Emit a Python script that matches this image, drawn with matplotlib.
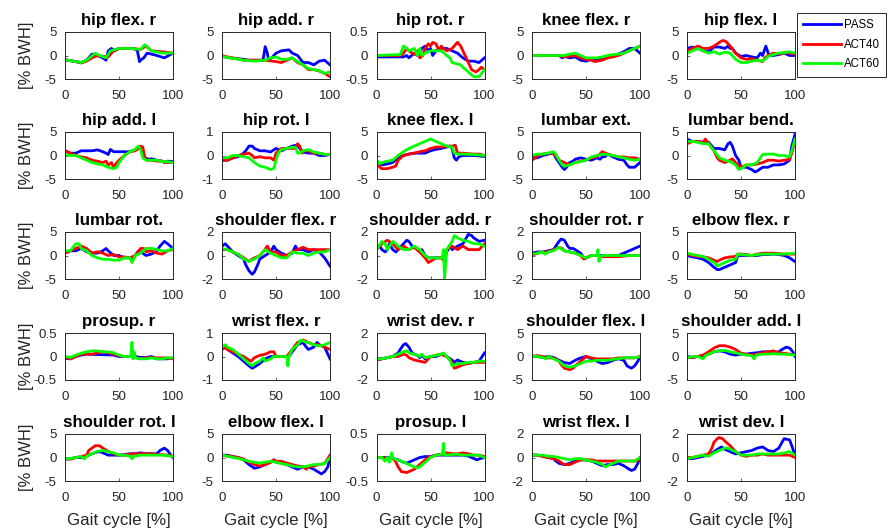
import matplotlib
matplotlib.use("Agg")
import matplotlib.pyplot as plt
from matplotlib.lines import Line2D

plt.rcParams["font.family"] = ["Liberation Sans", "DejaVu Sans"]
plt.rcParams["axes.unicode_minus"] = False

CONDITIONS = ["PASS", "ACT40", "ACT60"]
COLORS = {"PASS": "#0000ff", "ACT40": "#ff0000", "ACT60": "#00ff00"}
X_TICKS = [0, 50, 100]

# Residual moments per joint, as (gait cycle %, % BWH) samples
hip_flex_r = dict(
    PASS=[(0,-0.9),(5,-1.1),(10,-1.3),(15,-1.5),(20,-1.0),(25,0.3),(28,0.1),(32,-0.2),(35,-0.5),(38,-1.0),(40,1.0),(43,1.5),(46,1.0),(50,1.5),(55,1.5),(60,1.5),(65,1.4),(67,1.0),(69,-1.3),(71,-0.8),(73,-0.5),(76,0.5),(80,0.3),(85,0.0),(92,-0.5),(96,0.0),(100,0.5)],
    ACT40=[(0,-0.9),(5,-1.1),(10,-1.3),(15,-1.6),(20,-1.2),(25,-0.5),(30,0.0),(35,-0.2),(40,-0.3),(45,1.0),(50,1.5),(60,1.5),(70,1.3),(75,2.0),(80,1.0),(90,0.8),(100,0.5)],
    ACT60=[(0,-0.9),(5,-1.1),(10,-1.3),(15,-1.5),(20,-1.0),(28,0.5),(32,0.0),(38,-0.5),(42,1.0),(50,1.5),(60,1.5),(70,1.3),(74,2.3),(80,1.0),(90,0.5),(100,0.5)],
)
hip_add_r = dict(
    PASS=[(0,-0.2),(5,-0.4),(10,-0.6),(20,-0.8),(25,-1.0),(38,-1.0),(40,1.9),(42,0.5),(43,-1.0),(46,-0.5),(50,0.5),(55,1.0),(62,1.2),(65,0.5),(70,0.0),(75,-1.5),(80,-1.5),(85,-2.0),(90,-1.2),(95,-1.0),(100,-2.0)],
    ACT40=[(0,0.0),(5,-0.3),(10,-0.5),(20,-1.0),(30,-1.0),(40,-1.0),(50,-1.3),(55,-1.5),(60,-1.0),(65,-0.5),(70,-1.5),(75,-2.0),(80,-3.0),(85,-3.0),(90,-3.3),(95,-3.8),(100,-4.5)],
    ACT60=[(0,-0.2),(5,-0.4),(10,-0.6),(20,-1.0),(30,-1.2),(40,-1.0),(45,-0.5),(50,-0.3),(55,-0.8),(60,-0.8),(65,-0.5),(70,-1.3),(75,-2.0),(80,-2.8),(85,-3.0),(90,-3.2),(95,-3.8),(100,-3.5)],
)
hip_rot_r = dict(
    PASS=[(0,-0.03),(25,-0.03),(28,0.0),(30,-0.05),(35,0.05),(38,0.0),(40,0.05),(42,0.15),(45,0.2),(48,0.1),(50,0.15),(52,0.0),(55,0.1),(60,0.15),(65,0.15),(70,0.1),(75,0.05),(80,-0.05),(85,-0.12),(90,-0.12),(95,-0.15),(100,-0.05)],
    ACT40=[(0,0.0),(22,0.0),(25,0.05),(28,0.15),(30,0.1),(35,0.02),(38,0.1),(40,-0.05),(43,0.0),(45,0.15),(48,0.25),(50,0.2),(52,0.28),(55,0.25),(58,0.1),(60,0.2),(62,0.15),(65,0.1),(70,0.15),(75,0.28),(78,0.2),(80,0.1),(85,-0.15),(88,-0.3),(92,-0.35),(95,-0.3),(97,-0.25),(100,-0.3)],
    ACT60=[(0,0.0),(22,0.02),(25,0.2),(28,0.15),(30,0.1),(35,0.15),(38,0.0),(40,0.15),(42,0.0),(45,0.05),(50,0.1),(60,0.1),(65,0.0),(68,-0.05),(70,-0.15),(78,-0.2),(80,-0.25),(85,-0.35),(90,-0.45),(95,-0.45),(100,-0.3)],
)
knee_flex_r = dict(
    PASS=[(0,0.0),(25,0.0),(28,-0.5),(30,-0.2),(35,-0.5),(40,-0.3),(45,-1.0),(50,-1.2),(55,-0.8),(60,-0.8),(65,-0.5),(70,-0.2),(75,0.0),(80,0.3),(85,0.8),(90,1.5),(95,1.5),(100,0.5)],
    ACT40=[(0,0.0),(25,0.0),(30,-0.3),(40,0.0),(45,-0.5),(50,-0.8),(55,-1.0),(58,-1.3),(65,-1.0),(70,-0.5),(75,-0.3),(80,0.0),(85,0.5),(90,1.0),(95,1.5),(100,2.0)],
    ACT60=[(0,0.0),(30,0.0),(35,0.3),(40,0.5),(45,0.0),(50,-0.5),(60,-0.5),(65,-0.3),(70,0.0),(75,0.2),(80,0.3),(85,0.5),(90,1.0),(95,1.5),(100,2.0)],
)
hip_flex_l = dict(
    PASS=[(0,1.5),(5,1.8),(10,1.5),(15,1.0),(20,0.8),(25,1.8),(30,1.8),(35,1.5),(38,2.0),(40,1.5),(42,1.5),(45,0.5),(50,-0.2),(55,0.0),(60,-0.3),(65,-0.5),(68,0.5),(70,0.0),(73,2.0),(76,0.0),(80,0.0),(85,0.2),(90,0.5),(95,0.0),(100,0.0)],
    ACT40=[(0,1.0),(5,1.5),(10,2.0),(15,1.5),(20,1.5),(25,2.0),(30,2.8),(33,3.2),(36,3.0),(40,2.0),(45,0.5),(50,-0.5),(55,-0.8),(60,-0.7),(65,-1.0),(70,-1.3),(72,-0.5),(75,0.0),(80,0.5),(85,0.3),(90,0.6),(95,0.5),(100,0.3)],
    ACT60=[(0,0.5),(5,1.0),(10,1.5),(15,1.0),(20,0.5),(25,0.8),(30,0.3),(35,0.7),(40,0.5),(45,-0.8),(50,-1.5),(55,-1.5),(60,-1.2),(65,-1.0),(70,-1.2),(75,-0.2),(80,0.2),(85,0.5),(90,0.6),(95,0.8),(100,0.5)],
)
hip_add_l = dict(
    PASS=[(0,1.0),(5,0.5),(10,0.5),(15,1.0),(25,1.0),(30,1.2),(35,0.8),(38,0.5),(40,0.2),(42,1.3),(45,0.8),(60,0.8),(65,1.2),(68,1.5),(70,1.8),(72,0.5),(74,-0.5),(78,-0.8),(80,-0.7),(85,-1.0),(90,-1.2),(92,-1.5),(95,-1.2),(100,-1.3)],
    ACT40=[(0,1.0),(5,0.5),(10,0.0),(15,-0.3),(20,-0.5),(25,-1.0),(30,-1.2),(35,-1.5),(38,-1.2),(40,-2.0),(43,-1.5),(45,-2.5),(48,-1.5),(50,-1.0),(55,0.0),(60,0.8),(65,1.0),(68,1.5),(70,2.0),(72,1.8),(74,-0.5),(76,-1.0),(80,-1.0),(85,-1.2),(90,-1.2),(95,-1.5),(100,-1.5)],
    ACT60=[(0,0.2),(5,0.0),(10,0.0),(15,-0.5),(20,-1.0),(25,-1.5),(30,-1.8),(35,-2.0),(40,-2.5),(45,-2.8),(48,-2.5),(50,-1.5),(55,0.0),(60,0.8),(65,1.3),(68,2.0),(70,1.3),(72,-0.5),(75,-1.0),(85,-1.0),(90,-1.3),(95,-1.3),(100,-1.5)],
)
hip_rot_l = dict(
    PASS=[(0,-0.2),(5,-0.2),(10,-0.1),(15,-0.05),(20,0.1),(22,0.2),(25,0.4),(28,0.4),(30,0.3),(35,0.2),(40,0.2),(45,0.15),(50,0.3),(55,0.2),(60,0.3),(65,0.4),(70,0.45),(72,0.3),(75,0.15),(80,0.1),(85,0.1),(90,0.0),(95,0.0),(100,0.05)],
    ACT40=[(0,-0.2),(5,-0.2),(10,-0.1),(15,0.0),(20,0.05),(25,0.1),(28,0.0),(30,-0.1),(35,-0.05),(40,-0.1),(45,-0.1),(48,-0.2),(50,0.1),(55,0.3),(68,0.3),(70,0.5),(72,0.4),(74,0.1),(76,0.2),(80,0.2),(85,0.1),(90,0.1),(95,0.05),(100,0.05)],
    ACT60=[(0,-0.1),(5,-0.1),(10,0.0),(15,0.0),(20,-0.05),(25,-0.1),(30,-0.3),(35,-0.45),(40,-0.5),(45,-0.6),(48,-0.55),(50,-0.2),(52,0.1),(55,0.25),(60,0.3),(65,0.35),(68,0.35),(70,0.1),(72,0.1),(75,0.2),(80,0.25),(85,0.15),(90,0.1),(95,0.05),(100,0.05)],
)
knee_flex_l = dict(
    PASS=[(0,-1.0),(3,-2.0),(5,-2.0),(10,-1.8),(15,-1.5),(20,-0.5),(25,0.0),(30,0.3),(35,0.5),(45,0.5),(50,1.0),(55,1.3),(60,1.5),(65,1.8),(68,2.0),(70,1.5),(72,-0.5),(74,-1.0),(76,-0.3),(80,0.0),(90,0.0),(100,-0.2)],
    ACT40=[(0,-1.5),(3,-2.5),(5,-2.8),(10,-2.8),(15,-2.5),(18,-2.2),(20,-1.0),(25,0.0),(30,0.3),(35,0.5),(40,0.8),(45,1.0),(50,1.5),(55,1.8),(60,1.8),(65,2.0),(70,2.0),(73,2.2),(75,0.5),(80,0.5),(90,0.3),(95,0.3),(100,0.0)],
    ACT60=[(0,-1.0),(3,-1.8),(5,-1.5),(10,-1.2),(15,-1.0),(20,0.0),(25,0.8),(30,1.5),(35,2.0),(40,2.5),(45,3.0),(50,3.5),(55,3.0),(60,2.5),(65,2.0),(70,1.8),(72,0.5),(75,0.3),(80,0.3),(90,0.2),(100,0.0)],
)
lumbar_ext = dict(
    PASS=[(0,0.0),(3,-0.5),(5,-0.5),(10,0.0),(15,0.3),(20,0.5),(22,-0.5),(25,-1.5),(28,-2.5),(30,-3.0),(32,-2.5),(35,-1.5),(38,-1.2),(40,-0.8),(45,-0.5),(50,-0.8),(55,-1.0),(60,-0.5),(63,-0.8),(65,-0.3),(68,-0.2),(70,0.3),(75,-0.3),(80,-0.8),(85,-1.0),(88,-2.0),(90,-2.5),(95,-2.5),(100,-1.5)],
    ACT40=[(0,-1.0),(3,-0.5),(5,0.0),(10,0.3),(15,0.5),(20,0.5),(25,-1.0),(30,-1.5),(35,-2.0),(40,-1.5),(45,-1.2),(50,-1.0),(55,-0.5),(60,-0.3),(65,0.8),(70,0.3),(75,0.0),(80,-0.3),(85,-0.3),(90,-0.5),(95,-0.5),(100,-0.8)],
    ACT60=[(0,0.0),(5,0.3),(10,0.3),(15,0.5),(20,0.8),(22,0.3),(25,-1.0),(28,-2.0),(30,-2.3),(35,-2.0),(40,-1.5),(45,-1.3),(50,-1.0),(55,-0.3),(60,0.0),(65,0.3),(70,0.2),(75,0.0),(80,-0.3),(85,-0.5),(90,-0.8),(95,-1.0),(100,-0.8)],
)
lumbar_bend = dict(
    PASS=[(0,3.5),(5,3.0),(10,3.0),(15,2.8),(20,2.8),(25,1.5),(30,1.5),(35,1.2),(38,2.5),(40,2.8),(42,2.0),(45,0.0),(48,-1.0),(50,-2.5),(55,-2.5),(60,-3.0),(63,-3.5),(65,-3.3),(70,-2.5),(75,-2.5),(80,-2.0),(85,-2.0),(90,-1.8),(95,-1.0),(97,2.0),(100,4.5)],
    ACT40=[(0,2.5),(5,3.0),(10,3.0),(15,2.8),(17,3.5),(20,2.5),(25,1.0),(28,-0.5),(30,-1.0),(35,-1.5),(40,-1.0),(42,-0.7),(45,-1.5),(50,-2.5),(55,-2.0),(60,-2.0),(65,-1.8),(70,-1.5),(75,-1.0),(80,-1.0),(85,-1.2),(90,-1.0),(95,-0.8),(97,0.5),(100,3.0)],
    ACT60=[(0,3.0),(5,3.0),(10,2.8),(15,2.5),(20,2.5),(25,1.0),(30,-0.5),(35,-1.0),(40,-1.3),(45,-2.0),(48,-3.0),(50,-2.8),(55,-2.0),(60,-2.0),(65,-1.5),(70,0.2),(75,0.3),(80,0.3),(85,0.0),(90,0.0),(95,-0.3),(97,1.0),(100,3.5)],
)
lumbar_rot = dict(
    PASS=[(0,0.5),(5,1.0),(10,1.0),(15,1.5),(20,0.8),(25,0.5),(30,0.5),(35,1.0),(38,1.5),(40,1.0),(45,0.0),(50,0.0),(55,-0.5),(60,-0.5),(62,-1.0),(65,0.0),(68,1.0),(70,0.8),(75,0.0),(80,0.3),(85,1.0),(88,2.0),(92,3.0),(95,2.5),(100,1.5)],
    ACT40=[(0,0.5),(5,1.0),(10,1.5),(15,2.0),(20,1.5),(25,0.5),(30,0.8),(35,0.5),(40,0.0),(45,0.2),(50,-0.3),(55,-0.3),(60,-0.5),(65,0.0),(70,1.5),(73,1.5),(75,0.8),(80,1.0),(85,0.5),(90,0.3),(95,1.0),(100,1.3)],
    ACT60=[(0,1.0),(5,1.0),(10,2.5),(13,2.5),(15,1.5),(20,1.0),(25,0.0),(30,-0.5),(35,-0.8),(40,-0.8),(45,-1.0),(50,-1.0),(55,-0.5),(60,-0.5),(62,-1.5),(65,0.0),(70,0.5),(75,1.5),(80,1.5),(85,1.3),(90,1.0),(95,1.0),(100,1.5)],
)
shoulder_flex_r = dict(
    PASS=[(0,0.8),(3,1.0),(5,0.8),(10,0.3),(15,0.0),(20,-0.3),(22,-0.8),(25,-1.3),(28,-1.6),(30,-1.4),(33,-0.8),(35,-0.3),(40,0.0),(45,0.3),(48,0.8),(50,0.5),(55,0.2),(60,0.0),(65,0.2),(68,0.8),(70,0.5),(75,0.5),(80,0.3),(85,0.5),(90,0.3),(95,-0.2),(100,-0.9)],
    ACT40=[(0,0.5),(5,0.5),(10,0.3),(15,0.1),(20,-0.2),(25,-0.5),(28,-0.3),(30,-0.2),(35,0.0),(38,0.3),(42,0.8),(45,0.3),(50,0.3),(55,0.0),(60,0.0),(65,0.3),(70,0.5),(75,0.7),(80,0.5),(100,0.5)],
    ACT60=[(0,0.6),(5,0.5),(10,0.3),(15,0.1),(20,-0.3),(25,-0.5),(30,-0.3),(35,0.0),(40,0.5),(45,0.2),(50,0.0),(55,-0.2),(60,-0.2),(65,0.3),(70,0.2),(75,0.2),(80,0.0),(85,0.2),(90,0.3),(95,0.3),(100,0.5)],
)
shoulder_add_r = dict(
    PASS=[(0,0.7),(3,0.8),(5,0.5),(8,0.3),(10,0.5),(12,1.0),(15,0.5),(18,0.3),(20,0.5),(25,1.0),(28,1.3),(30,1.2),(33,0.8),(35,0.7),(38,0.5),(40,0.3),(42,0.5),(45,0.0),(48,-0.2),(60,-0.2),(63,-0.3),(65,0.3),(68,0.8),(70,0.5),(75,0.8),(80,1.0),(85,1.8),(88,1.7),(90,1.5),(95,1.2),(100,1.3)],
    ACT40=[(0,0.5),(5,1.0),(10,1.3),(15,1.0),(20,0.5),(25,0.8),(30,0.5),(35,0.7),(40,0.3),(45,-0.2),(48,-0.6),(50,-0.5),(55,-0.2),(60,-0.2),(63,-0.5),(65,0.5),(70,0.8),(75,0.5),(80,0.8),(85,0.5),(95,0.5),(100,1.0)],
    ACT60=[(0,0.5),(5,1.2),(8,1.0),(10,0.5),(15,1.2),(18,1.0),(20,0.8),(25,0.5),(30,0.5),(35,0.8),(40,0.5),(45,0.0),(48,-0.2),(61,-0.2),(62,0.5),(63,-2.0),(64,-0.8),(65,0.5),(70,1.2),(72,1.7),(75,1.5),(80,1.3),(85,1.2),(90,1.0),(95,1.0),(100,0.8)],
)
shoulder_rot_r = dict(
    PASS=[(0,0.2),(5,0.3),(10,0.3),(15,0.4),(20,0.5),(22,0.8),(25,1.2),(27,1.4),(30,1.3),(33,0.8),(35,0.6),(38,0.6),(40,0.5),(45,0.2),(48,-0.2),(50,-0.2),(55,0.0),(65,0.0),(70,-0.1),(75,0.0),(80,0.0),(85,0.2),(90,0.4),(95,0.6),(100,0.8)],
    ACT40=[(0,0.0),(5,0.2),(10,0.3),(15,0.3),(20,0.5),(25,0.7),(28,0.6),(30,0.4),(35,0.3),(40,0.2),(45,0.0),(48,-0.3),(50,-0.2),(55,0.0),(60,0.0),(65,-0.1),(80,-0.1),(90,0.0),(100,0.0)],
    ACT60=[(0,0.1),(5,0.2),(10,0.3),(12,0.1),(15,0.3),(20,0.4),(25,0.7),(28,0.5),(30,0.4),(35,0.3),(40,0.2),(45,0.0),(50,-0.2),(55,0.0),(60,0.0),(61,0.5),(62,-0.5),(63,-0.1),(65,0.0),(100,0.0)],
)
elbow_flex_r = dict(
    PASS=[(0,0.0),(5,-0.3),(10,-0.5),(15,-0.8),(20,-1.5),(25,-2.5),(28,-3.0),(30,-3.0),(35,-2.5),(40,-2.0),(45,-1.5),(47,0.0),(65,0.0),(70,0.2),(75,0.2),(80,0.3),(85,0.2),(90,0.0),(95,-0.5),(100,-1.3)],
    ACT40=[(0,0.3),(5,0.0),(10,-0.2),(15,-0.3),(20,-0.5),(25,-1.0),(28,-1.3),(30,-1.0),(35,-0.5),(40,-0.3),(45,-0.2),(47,0.3),(50,0.3),(55,0.2),(60,0.0),(65,0.3),(70,0.5),(80,0.5),(90,0.3),(100,0.3)],
    ACT60=[(0,0.5),(5,0.2),(10,0.0),(15,-0.2),(20,-0.8),(25,-1.5),(28,-2.2),(30,-2.0),(35,-1.5),(40,-1.0),(45,-0.8),(47,0.3),(50,0.2),(60,0.0),(65,0.2),(70,0.3),(90,0.3),(100,0.5)],
)
prosup_r = dict(
    PASS=[(0,-0.04),(5,-0.05),(10,0.0),(15,0.03),(20,0.05),(45,0.03),(50,0.0),(65,0.0),(70,-0.02),(75,-0.02),(80,0.0),(85,-0.05),(95,-0.05),(100,-0.03)],
    ACT40=[(0,-0.02),(5,-0.05),(10,0.0),(15,0.05),(25,0.05),(30,0.08),(35,0.1),(40,0.08),(45,0.05),(50,0.02),(55,0.0),(60,0.0),(62,0.02),(65,-0.02),(70,-0.05),(75,-0.03),(80,-0.02),(85,-0.03),(95,-0.03),(100,-0.05)],
    ACT60=[(0,0.0),(5,-0.02),(10,0.03),(15,0.07),(20,0.1),(25,0.12),(30,0.12),(35,0.1),(40,0.1),(45,0.08),(50,0.03),(55,0.0),(61,0.0),(62,0.3),(63,-0.05),(64,0.1),(65,-0.03),(70,-0.05),(75,-0.05),(80,-0.03),(85,-0.05),(90,-0.05),(95,-0.03),(100,-0.03)],
)
wrist_flex_r = dict(
    PASS=[(0,0.3),(3,0.4),(5,0.3),(10,0.15),(15,0.0),(20,-0.2),(25,-0.4),(28,-0.5),(30,-0.45),(35,-0.3),(40,-0.1),(45,0.0),(62,0.0),(65,0.2),(70,0.5),(75,0.6),(78,0.4),(80,0.3),(85,0.4),(88,0.6),(90,0.5),(95,0.4),(100,-0.1)],
    ACT40=[(0,0.3),(3,0.4),(5,0.3),(10,0.2),(15,0.1),(20,0.0),(25,-0.15),(27,-0.2),(30,-0.05),(35,0.05),(40,0.1),(45,0.2),(48,0.2),(50,0.0),(60,0.0),(65,0.3),(70,0.6),(75,0.7),(80,0.6),(85,0.5),(90,0.5),(95,0.4),(100,0.3)],
    ACT60=[(0,0.4),(3,0.5),(5,0.4),(10,0.3),(15,0.1),(20,-0.1),(25,-0.3),(28,-0.4),(30,-0.3),(35,-0.2),(38,-0.05),(40,-0.2),(45,-0.1),(48,0.0),(60,0.0),(61,-0.4),(62,0.0),(65,0.3),(70,0.5),(73,0.7),(78,0.6),(80,0.6),(85,0.5),(90,0.45),(95,0.5),(100,0.6)],
)
wrist_dev_r = dict(
    PASS=[(0,-0.3),(5,-0.2),(10,-0.1),(15,0.0),(20,0.3),(22,0.6),(25,1.0),(27,1.1),(30,0.8),(33,0.3),(35,0.2),(38,0.1),(40,-0.1),(42,0.1),(45,-0.2),(50,0.0),(55,0.0),(60,0.2),(65,0.0),(70,-0.3),(72,-0.5),(75,-0.3),(80,-0.5),(85,-0.6),(90,-0.5),(95,-0.4),(100,0.3)],
    ACT40=[(0,-0.3),(5,-0.2),(10,-0.1),(15,0.0),(20,0.0),(25,0.2),(28,0.1),(30,-0.1),(35,-0.3),(40,-0.4),(45,-0.5),(50,0.0),(55,0.1),(60,0.2),(65,0.0),(70,-0.5),(72,-1.0),(75,-0.9),(80,-0.7),(85,-0.6),(90,-0.5),(100,-0.5)],
    ACT60=[(0,-0.2),(5,-0.2),(10,-0.1),(15,0.0),(20,0.2),(25,0.4),(28,0.5),(30,0.3),(35,0.2),(40,0.0),(42,0.2),(45,-0.1),(50,0.0),(55,0.1),(60,0.2),(62,0.3),(65,0.0),(68,-0.3),(70,-0.8),(75,-0.6),(80,-0.6),(85,-0.5),(90,-0.5),(95,-0.4),(100,-0.4)],
)
shoulder_flex_l = dict(
    PASS=[(0,0.0),(5,0.0),(10,-0.2),(15,0.0),(20,-0.2),(25,-0.8),(30,-1.3),(35,-1.5),(40,-0.8),(45,-0.3),(50,0.0),(55,-0.5),(60,-1.0),(65,-1.5),(70,-1.3),(75,-0.8),(80,-0.5),(85,-0.8),(88,-2.0),(92,-2.5),(95,-2.0),(98,-1.0),(100,0.0)],
    ACT40=[(0,0.0),(5,0.2),(10,0.0),(15,-0.3),(20,-0.3),(25,-1.0),(28,-2.0),(30,-2.5),(35,-2.8),(38,-2.5),(40,-2.0),(45,-1.0),(50,0.0),(55,-0.3),(60,-0.5),(75,-0.5),(80,-0.3),(95,-0.3),(100,0.0)],
    ACT60=[(0,0.0),(5,0.0),(10,-0.2),(13,-0.5),(15,0.0),(20,-0.5),(25,-1.0),(30,-2.0),(35,-2.3),(40,-2.0),(45,-1.5),(50,-1.0),(55,-1.0),(60,-0.8),(70,-0.8),(75,-0.6),(80,-0.5),(85,-0.3),(90,-0.2),(95,-0.3),(100,0.0)],
)
shoulder_add_l = dict(
    PASS=[(0,0.0),(5,-0.2),(10,0.0),(15,0.2),(20,0.5),(25,1.0),(30,1.2),(35,1.0),(40,0.5),(45,0.3),(50,0.5),(55,0.5),(60,0.7),(65,0.8),(70,1.0),(75,1.0),(80,0.8),(85,1.0),(88,1.5),(92,2.0),(95,1.8),(98,1.0),(100,0.0)],
    ACT40=[(0,-0.3),(5,-0.2),(10,0.0),(15,0.3),(20,1.0),(25,1.8),(30,2.3),(35,2.3),(40,2.0),(45,1.5),(50,0.7),(55,0.5),(60,0.3),(65,0.5),(70,0.8),(75,1.0),(80,1.2),(85,0.8),(90,0.7),(95,0.5),(100,0.3)],
    ACT60=[(0,-0.3),(5,0.0),(10,0.0),(15,-0.5),(17,0.2),(20,0.5),(25,1.0),(30,1.2),(35,1.3),(40,1.0),(45,0.8),(50,0.5),(55,0.3),(60,0.2),(62,-0.5),(64,0.3),(70,0.5),(75,0.5),(80,0.6),(85,0.5),(90,0.5),(95,0.4),(100,0.3)],
)
shoulder_rot_l = dict(
    PASS=[(0,-0.3),(5,-0.3),(10,0.0),(15,0.0),(20,0.3),(25,0.8),(30,1.2),(33,1.2),(35,1.0),(40,0.5),(50,0.5),(55,0.6),(60,0.8),(65,0.8),(70,1.0),(75,0.8),(85,0.8),(88,1.5),(92,2.0),(95,1.5),(98,0.5),(100,0.0)],
    ACT40=[(0,-0.3),(5,-0.3),(10,0.0),(15,0.2),(20,0.5),(22,1.5),(25,2.0),(28,2.5),(32,2.5),(35,2.0),(40,1.3),(45,0.8),(50,0.5),(55,0.5),(60,0.7),(65,0.8),(80,0.8),(85,0.6),(90,0.6),(95,0.5),(100,0.3)],
    ACT60=[(0,-0.3),(5,-0.2),(10,0.0),(15,0.2),(18,-0.3),(20,0.3),(25,0.8),(30,1.3),(35,1.5),(40,1.2),(45,1.0),(50,0.5),(55,0.5),(60,0.3),(62,-0.3),(64,0.3),(70,0.5),(90,0.5),(95,0.4),(100,0.2)],
)
elbow_flex_l = dict(
    PASS=[(0,0.5),(5,0.5),(10,0.2),(15,0.0),(20,-0.5),(25,-1.5),(30,-2.3),(35,-2.0),(40,-1.5),(45,-1.0),(48,-0.5),(50,-1.0),(55,-1.2),(60,-1.5),(65,-2.0),(70,-2.5),(75,-2.0),(80,-2.0),(85,-2.5),(90,-3.2),(92,-3.5),(95,-3.0),(98,-2.0),(100,0.0)],
    ACT40=[(0,0.5),(5,0.3),(10,0.2),(15,0.0),(20,-0.3),(25,-1.0),(30,-1.5),(35,-1.8),(40,-1.5),(45,-1.0),(48,-0.5),(50,-0.8),(55,-0.8),(60,-1.2),(65,-1.5),(70,-1.8),(75,-2.0),(78,-2.5),(80,-2.0),(85,-1.8),(90,-1.5),(95,-1.3),(100,0.5)],
    ACT60=[(0,0.5),(5,0.3),(10,0.0),(15,-0.2),(20,-0.5),(25,-0.8),(30,-1.0),(35,-1.2),(40,-1.0),(45,-0.8),(50,-1.0),(55,-1.3),(60,-1.5),(65,-1.8),(70,-2.0),(75,-2.0),(80,-1.8),(85,-1.5),(90,-1.5),(95,-1.3),(100,0.0)],
)
prosup_l = dict(
    PASS=[(0,0.0),(10,0.0),(15,-0.02),(20,-0.05),(25,-0.1),(28,-0.12),(30,-0.1),(35,-0.05),(40,0.0),(45,0.02),(50,0.02),(55,0.05),(80,0.05),(85,0.03),(90,-0.02),(93,-0.05),(95,-0.03),(100,0.0)],
    ACT40=[(0,0.0),(5,0.0),(10,-0.02),(15,0.0),(18,-0.1),(20,-0.2),(23,-0.3),(28,-0.32),(30,-0.3),(35,-0.25),(40,-0.15),(45,-0.05),(48,0.0),(50,0.02),(55,0.05),(60,0.07),(65,0.1),(70,0.08),(75,0.08),(80,0.1),(85,0.08),(90,0.05),(95,0.05),(100,0.02)],
    ACT60=[(0,0.0),(5,0.0),(8,-0.08),(10,0.0),(12,-0.1),(14,0.1),(15,0.0),(18,-0.05),(20,-0.05),(25,-0.1),(30,-0.15),(35,-0.2),(38,-0.22),(40,-0.2),(45,-0.1),(50,0.0),(55,0.05),(61,0.07),(62,0.3),(63,0.05),(75,0.07),(80,0.05),(95,0.05),(100,0.0)],
)
wrist_flex_l = dict(
    PASS=[(0,0.2),(5,0.2),(10,0.1),(15,0.0),(20,-0.1),(22,-0.3),(25,-0.5),(30,-0.6),(35,-0.5),(40,-0.3),(45,-0.2),(50,-0.2),(55,-0.3),(60,-0.5),(65,-0.7),(70,-0.6),(75,-0.6),(80,-0.5),(85,-0.7),(90,-1.0),(92,-1.1),(95,-1.0),(98,-0.5),(100,0.0)],
    ACT40=[(0,0.2),(5,0.2),(10,0.1),(15,0.0),(20,-0.1),(25,-0.3),(28,-0.5),(30,-0.6),(35,-0.6),(40,-0.4),(45,-0.2),(55,-0.2),(60,-0.3),(95,-0.3),(100,-0.2)],
    ACT60=[(0,0.2),(10,0.2),(15,0.1),(20,0.1),(25,0.0),(30,-0.1),(35,-0.2),(40,-0.1),(45,-0.1),(50,-0.2),(55,-0.3),(60,-0.4),(65,-0.6),(68,-0.8),(70,-0.7),(75,-0.5),(80,-0.3),(95,-0.3),(100,0.0)],
)
wrist_dev_l = dict(
    PASS=[(0,-0.1),(5,-0.1),(10,0.0),(15,0.1),(20,0.2),(25,0.5),(30,0.8),(32,0.9),(35,0.7),(40,0.5),(45,0.3),(50,0.4),(55,0.5),(60,0.6),(65,0.8),(70,0.9),(75,0.6),(80,0.5),(85,0.8),(88,1.3),(90,1.6),(95,1.5),(97,1.0),(100,0.2)],
    ACT40=[(0,0.0),(5,0.0),(10,0.1),(15,0.2),(20,0.3),(23,0.8),(25,1.3),(28,1.6),(30,1.7),(33,1.6),(35,1.4),(40,1.0),(45,0.5),(50,0.2),(55,0.1),(60,0.2),(65,0.2),(70,0.3),(75,0.2),(95,0.2),(100,0.0)],
    ACT60=[(0,-0.1),(5,0.0),(10,0.1),(15,0.2),(20,0.1),(25,0.4),(30,0.6),(35,0.8),(38,0.8),(40,0.7),(45,0.5),(50,0.2),(60,0.2),(65,0.3),(85,0.3),(90,0.4),(95,0.5),(100,0.2)],
)

# (title, symmetric y-limit, data), row by row
PANELS = [
    ("hip flex. r", 5, hip_flex_r), ("hip add. r", 5, hip_add_r), ("hip rot. r", 0.5, hip_rot_r),
    ("knee flex. r", 5, knee_flex_r), ("hip flex. l", 5, hip_flex_l),
    ("hip add. l", 5, hip_add_l), ("hip rot. l", 1, hip_rot_l), ("knee flex. l", 5, knee_flex_l),
    ("lumbar ext.", 5, lumbar_ext), ("lumbar bend.", 5, lumbar_bend),
    ("lumbar rot.", 5, lumbar_rot), ("shoulder flex. r", 2, shoulder_flex_r), ("shoulder add. r", 2, shoulder_add_r),
    ("shoulder rot. r", 2, shoulder_rot_r), ("elbow flex. r", 5, elbow_flex_r),
    ("prosup. r", 0.5, prosup_r), ("wrist flex. r", 1, wrist_flex_r), ("wrist dev. r", 2, wrist_dev_r),
    ("shoulder flex. l", 5, shoulder_flex_l), ("shoulder add. l", 5, shoulder_add_l),
    ("shoulder rot. l", 5, shoulder_rot_l), ("elbow flex. l", 5, elbow_flex_l), ("prosup. l", 0.5, prosup_l),
    ("wrist flex. l", 2, wrist_flex_l), ("wrist dev. l", 2, wrist_dev_l),
]

# grid geometry in pixels
FIG_W, FIG_H = 888, 532
COL_LEFT = [65, 222, 376.5, 532, 687]
ROW_TOP = [32, 132, 232, 333, 434]
AX_W, AX_H = 108, 47
AX_GRAY = "#262626"

fig = plt.figure(figsize=(FIG_W / 100, FIG_H / 100), dpi=100)


def fmt(v):
    return f"{v:g}"


for i, (title, lim, series) in enumerate(PANELS):
    r, c = divmod(i, 5)
    ax = fig.add_axes([COL_LEFT[c] / FIG_W, 1 - (ROW_TOP[r] + AX_H) / FIG_H,
                       AX_W / FIG_W, AX_H / FIG_H])
    for cond in CONDITIONS:
        xs = [p[0] for p in series[cond]]
        ys = [p[1] for p in series[cond]]
        ax.plot(xs, ys, color=COLORS[cond], lw=2.0, solid_joinstyle="round")
    ax.set_xlim(0, 100)
    ax.set_ylim(-lim, lim)
    ax.set_xticks(X_TICKS)
    ax.set_yticks([-lim, 0, lim])
    ax.set_yticklabels([fmt(-lim), "0", fmt(lim)])
    ax.tick_params(direction="in", length=2, width=0.5, labelsize=9.6,
                   colors=AX_GRAY, labelcolor=AX_GRAY)
    ax.tick_params(axis="x", pad=8)
    ax.tick_params(axis="y", pad=6)
    for sp in ax.spines.values():
        sp.set_linewidth(0.7)
        sp.set_color(AX_GRAY)
    ax.set_title(title, fontsize=12.2, fontweight="bold", pad=5, color="black")
    if c == 0:
        ax.set_ylabel("[% BWH]", fontsize=12, color=AX_GRAY)
        ax.yaxis.set_label_coords(-0.285, 0.5)
    if r == 4:
        ax.set_xlabel("Gait cycle [%]", fontsize=12.2, color=AX_GRAY)
        ax.xaxis.set_label_coords(0.5, -0.68)

handles = [Line2D([], [], color=COLORS[c], lw=2.0) for c in CONDITIONS]
leg = fig.legend(handles, CONDITIONS, loc="upper left",
                 bbox_to_anchor=(797 / FIG_W, 1 - 13 / FIG_H),
                 fontsize=8.3, frameon=True, fancybox=False, framealpha=1,
                 edgecolor=AX_GRAY, handlelength=3.3, handletextpad=0.2,
                 labelspacing=0.65, borderpad=0.55, borderaxespad=0)
leg.get_frame().set_linewidth(0.7)

fig.savefig("out.png", dpi=100)
